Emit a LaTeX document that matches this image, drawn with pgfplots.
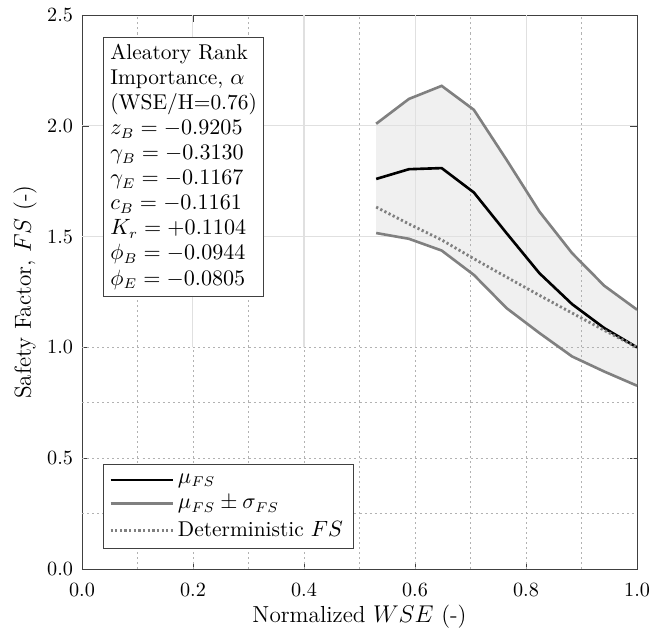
\documentclass[border=0pt]{standalone}
\usepackage{pgfplots}
\pgfplotsset{compat=1.18}
\usepgfplotslibrary{fillbetween}
\begin{document}
\begin{tikzpicture}
\begin{axis}[
  name=ax,
  scale only axis, width=275pt, height=274.5pt,
  xmin=0, xmax=1, ymin=0, ymax=2.5,
  xtick={0,0.2,0.4,0.6,0.8,1.0},
  ytick={0,0.5,1.0,1.5,2.0,2.5},
  xticklabel style={font=\fontsize{10.2}{12}\selectfont, /pgf/number format/.cd,fixed,fixed zerofill,precision=1},
  yticklabel style={font=\fontsize{10.2}{12}\selectfont, /pgf/number format/.cd,fixed,fixed zerofill,precision=1},
  yticklabel shift=0.9pt,
  xticklabel shift=3.6pt,
  tick align=inside, major tick length=3.5pt,
  axis line style={black!75}, tick style={black!75},
  xlabel={Normalized $WSE$ (-)},
  ylabel={Safety Factor, $FS$ (-)},
  xlabel style={at={(axis description cs:0.5,-0.0973)}, anchor=base, font=\fontsize{11.5}{13.5}\selectfont},
  ylabel style={at={(axis description cs:-0.1026,0.5)}, anchor=center, rotate=0, font=\fontsize{11.5}{13.5}\selectfont},
  legend style={at={(axis description cs:0.0373,0.0361)}, anchor=south west, draw=black!75, fill=white, inner xsep=3pt, inner ysep=2.5pt, row sep=0.8pt, font=\fontsize{10.6}{12.4}\selectfont},
  legend cell align=left,
  legend image code/.code={\draw[#1] (0pt,0pt) -- (30.7pt,0pt);},
]
% fill between upper and lower
\addplot[name path=up, draw=none, forget plot] coordinates {(0.530,2.009) (0.589,2.121) (0.648,2.180) (0.706,2.072) (0.765,1.846) (0.824,1.613) (0.883,1.425) (0.941,1.278) (1.000,1.170)};
\addplot[name path=lo, draw=none, forget plot] coordinates {(0.530,1.516) (0.589,1.490) (0.648,1.437) (0.706,1.327) (0.765,1.177) (0.824,1.065) (0.883,0.959) (0.941,0.891) (1.000,0.827)};
\addplot[fill=black!6, draw=none, forget plot] fill between[of=up and lo];
% grid: upper region
\pgfplotsinvokeforeach{0.2,0.4,0.6,0.8}{\draw[black!12, line width=0.5pt] (axis cs:#1,1) -- (axis cs:#1,2.5);}
\pgfplotsinvokeforeach{0.1,0.3,0.5,0.7,0.9}{\draw[black!30, line width=0.4pt, dash pattern=on 1pt off 1.5pt] (axis cs:#1,1) -- (axis cs:#1,2.5);}
\pgfplotsinvokeforeach{1.5,2.0}{\draw[black!12, line width=0.5pt] (axis cs:0,#1) -- (axis cs:1,#1);}
% grid: lower region
\pgfplotsinvokeforeach{0.1,0.2,0.3,0.4,0.5,0.6,0.7,0.8,0.9}{\draw[black!30, line width=0.4pt, dash pattern=on 1pt off 1.5pt] (axis cs:#1,0) -- (axis cs:#1,1);}
\pgfplotsinvokeforeach{0.25,0.5,0.75,1.0}{\draw[black!30, line width=0.4pt, dash pattern=on 1pt off 1.5pt] (axis cs:0,#1) -- (axis cs:1,#1);}
% mean
\addplot[black, line width=1.3pt] coordinates {(0.530,1.760) (0.589,1.804) (0.648,1.809) (0.706,1.699) (0.765,1.515) (0.824,1.335) (0.883,1.195) (0.941,1.087) (1.000,1.000)};
\addlegendentry{$\mu_{FS}$}
\addplot[black!50, line width=1.3pt] coordinates {(0.530,2.009) (0.589,2.121) (0.648,2.180) (0.706,2.072) (0.765,1.846) (0.824,1.613) (0.883,1.425) (0.941,1.278) (1.000,1.170)};
\addlegendentry{$\mu_{FS}\pm\sigma_{FS}$}
\addplot[black!50, line width=1.3pt, forget plot] coordinates {(0.530,1.516) (0.589,1.490) (0.648,1.437) (0.706,1.327) (0.765,1.177) (0.824,1.065) (0.883,0.959) (0.941,0.891) (1.000,0.827)};
\addplot[black!50, line width=1.4pt, dash pattern=on 1.1pt off 1.2pt] coordinates {(0.530,1.633) (0.589,1.557) (0.648,1.485) (0.706,1.400) (0.765,1.317) (0.824,1.235) (0.883,1.155) (0.941,1.077) (1.000,1.000)};
\addlegendentry{Deterministic $FS$}
\node[draw=black!75, fill=white, align=left, anchor=north west, inner xsep=3.3pt, inner ysep=3.5pt, font=\fontsize{10.6}{12.4}\selectfont] at (axis description cs:0.0384,0.9603) {Aleatory Rank\\Importance, $\alpha$\\(WSE/H=0.76)\\$z_B=-0.9205$\\$\gamma_B=-0.3130$\\$\gamma_E=-0.1167$\\$c_B=-0.1161$\\$K_r=+0.1104$\\$\phi_B=-0.0944$\\$\phi_E=-0.0805$};
\end{axis}
\pgfresetboundingbox
\path ([shift={(-40.6pt,-31.7pt)}]ax.south west) rectangle ([shift={(7.4pt,7.4pt)}]ax.north east);
\end{tikzpicture}
\end{document}
